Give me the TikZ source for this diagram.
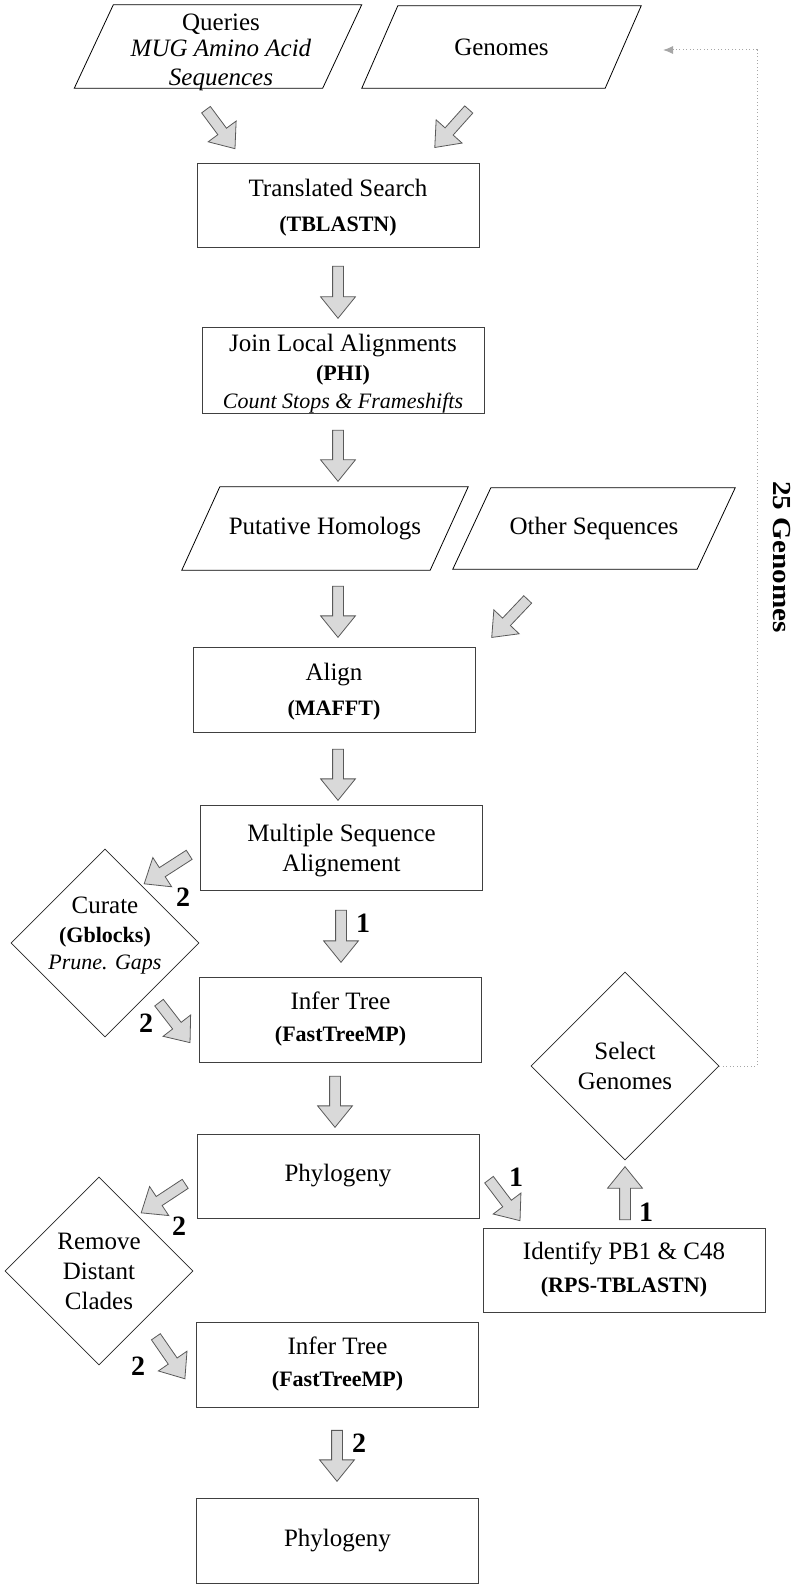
\documentclass[tikz,border=0pt]{standalone}
\usepackage{fontspec}
\setmainfont{Liberation Serif}
\usetikzlibrary{shapes.geometric,shapes.arrows,calc,arrows.meta}

\newcommand\rfont{\fontsize{25}{30}\selectfont}
\newcommand\bfnt{\fontsize{22}{26}\selectfont\bfseries}
\newcommand\ifnt{\fontsize{22}{26}\selectfont\itshape}

\tikzset{
 box/.style={draw=black!75, line width=0.9pt, minimum width=282pt, minimum height=84pt, inner sep=0pt, align=center, font=\rfont},
 para/.style={minimum width=#1, minimum height=83pt, inner sep=0pt, align=center, font=\rfont},
 dia/.style={draw=black!85, line width=0.7pt, diamond, minimum width=188pt, minimum height=188pt, inner sep=0pt},
 fat/.style={single arrow, draw=black!65, fill=black!15, line width=0.8pt, inner xsep=0pt, inner ysep=5pt, single arrow head extend=12pt, single arrow tip angle=78, single arrow head indent=0pt},
 num/.style={font=\fontsize{28}{30}\selectfont\bfseries, inner sep=0pt},
 feedback/.style={draw=black!35, line width=1pt, dash pattern=on 1pt off 2.5pt, -{Latex[length=10pt,width=8pt]}},
}

\newcommand\paral[2]{\draw[line width=0.8pt] ($(#1.north west)+(#2,0)$) -- ($(#1.north east)+(#2,0)$) -- ($(#1.south east)-(#2,0)$) -- ($(#1.south west)-(#2,0)$) -- cycle;}
\newcommand\fatarr[2]{\path let \p1=($(#2)-(#1)$), \n1={atan2(\y1,\x1)}, \n2={veclen(\x1,\y1)} in node[fat, rotate=\n1, minimum height=\n2] at ($(#1)!0.5!(#2)$) {};}

\begin{document}
\begin{tikzpicture}[x=1pt,y=-1pt]
\useasboundingbox (0,0) rectangle (800,1589);

% input parallelograms
\node[para=248pt, label={[align=center, font=\rfont, yshift=-6pt, xshift=3pt]center:{Queries\\[-4pt]{\itshape MUG Amino Acid}\\[-1pt]{\itshape Sequences}}}] (qry) at (218,46.5) {};
\paral{qry}{19.5}
\node[para=243pt, minimum height=82pt] (gen) at (501.5,47) {Genomes};
\paral{gen}{18}

\node[box] (tbl) at (338,205) {\rule{0pt}{22pt}Translated Search\\[5pt]{\bfnt (TBLASTN)}};
\node[box, minimum height=85pt] (phi) at (343,370.5) {\rule{0pt}{24pt}Join Local Alignments\\[-1pt]{\bfnt (PHI)}\\[-2pt]{\ifnt Count Stops \& Frameshifts}};

\node[para=248pt] (put) at (325,528.5) {Putative Homologs};
\paral{put}{19}
\node[para=244pt, minimum height=81pt] (oth) at (594,528.5) {Other Sequences};
\paral{oth}{19}

\node[box, minimum height=85pt] (maf) at (334,689.5) {\rule{0pt}{22pt}Align\\[5pt]{\bfnt (MAFFT)}};
\node[box, minimum height=85pt] (msa) at (341.5,847.5) {\rule{0pt}{24pt}Multiple Sequence\\Alignement};
\node[box, minimum height=85pt] (ift1) at (340.5,1019.5) {Infer Tree\\[2pt]{\bfnt (FastTreeMP)}};
\node[box] (phy1) at (338,1176) {Phylogeny};
\node[box, minimum height=85pt] (ift2) at (337.5,1364.5) {Infer Tree\\[2pt]{\bfnt (FastTreeMP)}};
\node[box, minimum height=85pt] (phy2) at (337.5,1540.5) {Phylogeny};
\node[box] (rps) at (624,1270) {Identify PB1 \& C48\\[3pt]{\bfnt (RPS-TBLASTN)}};

\node[dia, label={[align=center, font=\rfont, yshift=7pt]center:{Curate\\[-1pt]{\bfnt (Gblocks)}\\[-3pt]{\ifnt Prune. Gaps}}}] (cur) at (105,943) {};
\node[dia, label={[align=center, font=\rfont]center:{Remove\\Distant\\Clades}}] (rem) at (99,1271) {};
\node[dia, label={[align=center, font=\rfont]center:{Select\\Genomes}}] (sel) at (625,1066) {};

% arrow end points
\coordinate (a1s) at (204,107);  \coordinate (a1e) at (233,146);
\coordinate (a2s) at (471,107);  \coordinate (a2e) at (437,145);
\coordinate (a3s) at (338,263);  \coordinate (a3e) at (338,315);
\coordinate (a4s) at (338,427);  \coordinate (a4e) at (338,478);
\coordinate (a5s) at (338,583);  \coordinate (a5e) at (338,634);
\coordinate (a6s) at (530,597);  \coordinate (a6e) at (494,635);
\coordinate (a7s) at (338,746);  \coordinate (a7e) at (338,797);
\coordinate (a8s) at (341,907);  \coordinate (a8e) at (341,959);
\coordinate (a9s) at (192,853);  \coordinate (a9e) at (147,882);
\coordinate (a10s) at (157,1000); \coordinate (a10e) at (188,1040);
\coordinate (a11s) at (335,1073); \coordinate (a11e) at (335,1124);
\coordinate (a12s) at (188,1182); \coordinate (a12e) at (144,1211);
\coordinate (a13s) at (154,1334); \coordinate (a13e) at (183,1376);
\coordinate (a14s) at (337,1427); \coordinate (a14e) at (337,1478);
\coordinate (a15s) at (487,1177); \coordinate (a15e) at (518,1218);
\coordinate (a16s) at (625,1223); \coordinate (a16e) at (625,1170);

\fatarr{a1s}{a1e}
\fatarr{a2s}{a2e}
\fatarr{a3s}{a3e}
\fatarr{a4s}{a4e}
\fatarr{a5s}{a5e}
\fatarr{a6s}{a6e}
\fatarr{a7s}{a7e}
\fatarr{a8s}{a8e}
\fatarr{a9s}{a9e}
\fatarr{a10s}{a10e}
\fatarr{a11s}{a11e}
\fatarr{a12s}{a12e}
\fatarr{a13s}{a13e}
\fatarr{a14s}{a14e}
\fatarr{a15s}{a15e}
\fatarr{a16s}{a16e}

% step numbers
\node[num] (n1) at (363,923) {1};
\node[num] (n2) at (183,897) {2};
\node[num] (n3) at (146,1023) {2};
\node[num] (n4) at (179,1226) {2};
\node[num] (n5) at (138,1366) {2};
\node[num] (n6) at (359,1443) {2};
\node[num] (n7) at (516,1177) {1};
\node[num] (n8) at (646,1212) {1};

% feedback loop
\coordinate (fbk) at (663,50);
\draw[feedback] (sel.east) -- (757,1066) |- (fbk);
\node[font=\fontsize{26}{30}\selectfont\bfseries, rotate=-90, xscale=1.12, inner sep=0pt] (lab) at (782,557) {25 Genomes};
\end{tikzpicture}
\end{document}
